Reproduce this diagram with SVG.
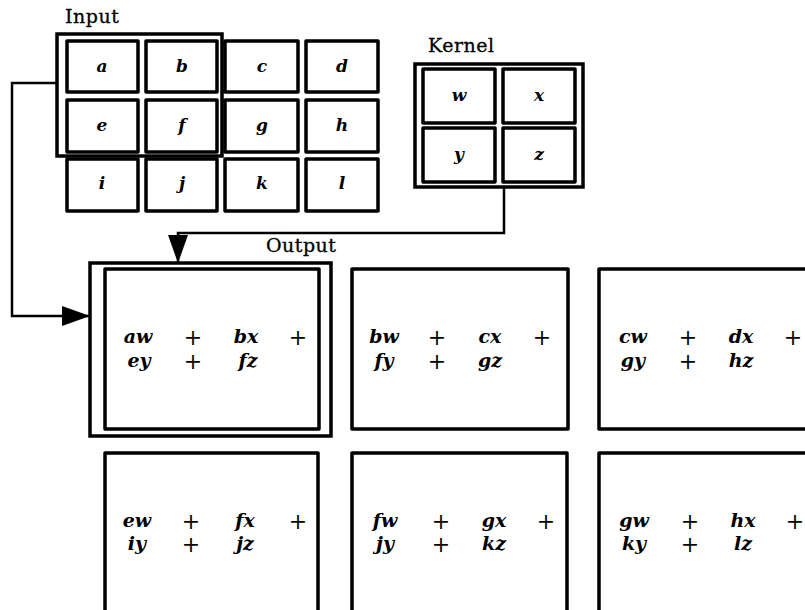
<svg xmlns="http://www.w3.org/2000/svg" width="805" height="610" viewBox="0 0 805 610">
<defs>
<style>
.cell{fill:#fff;stroke:#000;stroke-width:3.5;stroke-linejoin:round}
.hl{fill:none;stroke:#000;stroke-width:3.5}
.lbl{font-family:"DejaVu Serif","Liberation Serif",serif;font-size:19px;fill:#000;stroke:#000;stroke-width:0.3}
.v{font-family:"DejaVu Serif","Liberation Serif",serif;font-style:italic;font-weight:bold;font-size:17px;fill:#000;text-anchor:middle}
.e{font-family:"DejaVu Serif","Liberation Serif",serif;font-style:italic;font-weight:bold;font-size:19px;fill:#000;text-anchor:middle}
.p{font-family:"DejaVu Serif","Liberation Serif",serif;font-size:22px;fill:#000;text-anchor:middle}
.con{fill:none;stroke:#000;stroke-width:2.5}
</style>
<marker id="ah" markerUnits="userSpaceOnUse" markerWidth="30" markerHeight="22" refX="28" refY="10" orient="auto">
<path d="M0,0 L28,10 L0,20 Z" fill="#000"/>
</marker>
</defs>
<rect width="805" height="610" fill="#fff"/>

<text class="lbl" x="65" y="23" letter-spacing="0.5">Input</text>
<text class="lbl" x="428" y="52" letter-spacing="0.5">Kernel</text>
<text class="lbl" x="266" y="252" letter-spacing="0.5">Output</text>

<g id="input">
<rect class="hl" x="57" y="34" width="165" height="122"/>
<g id="in-a"><rect class="cell" x="67" y="41" width="71" height="51"/><text class="v" x="102" y="72">a</text></g>
<g id="in-b"><rect class="cell" x="146" y="41" width="71" height="51"/><text class="v" x="182" y="72">b</text></g>
<g id="in-c"><rect class="cell" x="225" y="41" width="73" height="51"/><text class="v" x="262" y="72">c</text></g>
<g id="in-d"><rect class="cell" x="306" y="41" width="72" height="51"/><text class="v" x="342" y="72">d</text></g>
<g id="in-e"><rect class="cell" x="67" y="100" width="71" height="52"/><text class="v" x="102" y="131">e</text></g>
<g id="in-f"><rect class="cell" x="146" y="100" width="71" height="52"/><text class="v" x="182" y="131">f</text></g>
<g id="in-g"><rect class="cell" x="225" y="100" width="73" height="52"/><text class="v" x="262" y="131">g</text></g>
<g id="in-h"><rect class="cell" x="306" y="100" width="72" height="52"/><text class="v" x="342" y="131">h</text></g>
<g id="in-i"><rect class="cell" x="67" y="159" width="71" height="52"/><text class="v" x="102" y="189">i</text></g>
<g id="in-j"><rect class="cell" x="146" y="159" width="71" height="52"/><text class="v" x="182" y="189">j</text></g>
<g id="in-k"><rect class="cell" x="225" y="159" width="73" height="52"/><text class="v" x="262" y="189">k</text></g>
<g id="in-l"><rect class="cell" x="306" y="159" width="72" height="52"/><text class="v" x="342" y="189">l</text></g>
</g>

<g id="kernel">
<rect class="hl" x="415" y="64" width="168" height="123"/>
<g id="k-w"><rect class="cell" x="423" y="69" width="72" height="54"/><text class="v" x="459" y="101">w</text></g>
<g id="k-x"><rect class="cell" x="503" y="69" width="72" height="54"/><text class="v" x="539" y="101">x</text></g>
<g id="k-y"><rect class="cell" x="423" y="128" width="72" height="54"/><text class="v" x="459" y="160">y</text></g>
<g id="k-z"><rect class="cell" x="503" y="128" width="72" height="54"/><text class="v" x="539" y="160">z</text></g>
</g>

<g id="connectors">
<path class="con" d="M57,83 H12 V316 H90" marker-end="url(#ah)"/>
<path class="con" d="M504,187 V233 H178 V263" marker-end="url(#ah)"/>
</g>

<g id="out1">
<rect class="hl" x="90" y="263" width="241" height="173"/>
<rect class="cell" x="105" y="269" width="214" height="160"/>
<text class="e" x="138" y="343">aw</text><text class="p" x="193" y="345">+</text><text class="e" x="246" y="343">bx</text><text class="p" x="298" y="345">+</text>
<text class="e" x="139" y="367">ey</text><text class="p" x="193" y="369">+</text><text class="e" x="248" y="367">fz</text>
</g>
<g id="out2">
<rect class="cell" x="352" y="269" width="216" height="160"/>
<text class="e" x="384" y="343">bw</text><text class="p" x="437" y="345">+</text><text class="e" x="490" y="343">cx</text><text class="p" x="542" y="345">+</text>
<text class="e" x="384" y="367">fy</text><text class="p" x="437" y="369">+</text><text class="e" x="490" y="367">gz</text>
</g>
<g id="out3">
<rect class="cell" x="599" y="269" width="216" height="160"/>
<text class="e" x="633" y="343">cw</text><text class="p" x="688" y="345">+</text><text class="e" x="741" y="343">dx</text><text class="p" x="793" y="345">+</text>
<text class="e" x="633" y="367">gy</text><text class="p" x="688" y="369">+</text><text class="e" x="741" y="367">hz</text>
</g>
<g id="out4">
<rect class="cell" x="105" y="453" width="213" height="170"/>
<text class="e" x="137" y="527">ew</text><text class="p" x="191" y="529">+</text><text class="e" x="245" y="527">fx</text><text class="p" x="298" y="529">+</text>
<text class="e" x="137" y="550">iy</text><text class="p" x="191" y="552">+</text><text class="e" x="245" y="550">jz</text>
</g>
<g id="out5">
<rect class="cell" x="352" y="453" width="215" height="170"/>
<text class="e" x="385" y="527">fw</text><text class="p" x="441" y="529">+</text><text class="e" x="494" y="527">gx</text><text class="p" x="546" y="529">+</text>
<text class="e" x="385" y="550">jy</text><text class="p" x="441" y="552">+</text><text class="e" x="494" y="550">kz</text>
</g>
<g id="out6">
<rect class="cell" x="599" y="453" width="216" height="170"/>
<text class="e" x="634" y="527">gw</text><text class="p" x="690" y="529">+</text><text class="e" x="743" y="527">hx</text><text class="p" x="795" y="529">+</text>
<text class="e" x="634" y="550">ky</text><text class="p" x="690" y="552">+</text><text class="e" x="743" y="550">lz</text>
</g>
</svg>
